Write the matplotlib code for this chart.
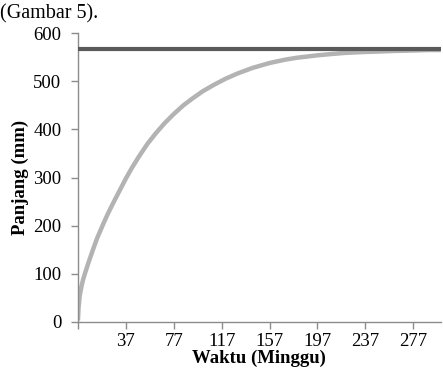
import matplotlib
matplotlib.use("Agg")
import matplotlib.pyplot as plt

# growth curve (weeks, length mm)
weeks = [-3, -2.5, -1.5, 0, 1.5, 3, 6, 9.5, 13, 18, 22, 27, 32, 37, 42, 48, 55, 62,
         69, 77, 85, 93, 101, 110, 120, 130, 143, 157, 170, 180, 197, 210, 220,
         237, 250, 260, 277, 290, 300]
length = [3, 30, 55, 75, 90, 102, 125, 150, 174, 203, 225, 250, 274, 298, 320, 344,
          370, 392, 412, 432, 450, 465, 479, 492, 505, 516, 528, 538, 545, 549,
          554, 557, 559, 561, 562, 563, 564, 565, 565]
L_inf = 567
tick_weeks = [37, 77, 117, 157, 197, 237, 277]

plt.rcParams['font.family'] = ['Liberation Serif', 'DejaVu Serif']

fig = plt.figure(figsize=(4.43, 3.77), dpi=100)
ax = fig.add_axes([0.176, 0.146, 0.819, 0.766])

ax.plot([weeks[0], weeks[-1]], [L_inf, L_inf], color='#5a5a5a', lw=3.0,
        solid_capstyle='butt', zorder=3)
ax.plot(weeks, length, color='#b3b3b3', lw=3.2, solid_capstyle='butt', zorder=2)

ax.set_xlim(-3, 300)
ax.set_ylim(0, 600)
ax.set_yticks(range(0, 601, 100))
ax.set_xticks([-3] + tick_weeks)
ax.set_xticklabels([''] + [str(t) for t in tick_weeks])

for s in ['top', 'right']:
    ax.spines[s].set_visible(False)
for s in ['left', 'bottom']:
    ax.spines[s].set_color('#8c8c8c')
    ax.spines[s].set_linewidth(1.0)
ax.tick_params(axis='both', colors='#8c8c8c', labelcolor='black', labelsize=13.5,
               length=5, width=1.0, direction='out')
ax.tick_params(axis='y', pad=7)
ax.tick_params(axis='x', pad=3)

ax.set_xlabel('Waktu (Minggu)', fontsize=13.5, fontweight='bold', labelpad=0)
ax.set_ylabel('Panjang (mm)', fontsize=13.5, fontweight='bold', labelpad=3)

fig.text(0.0, 0.962, '(Gambar 5).', fontsize=14.5, ha='left', va='center')

fig.savefig('out.png', dpi=100)
